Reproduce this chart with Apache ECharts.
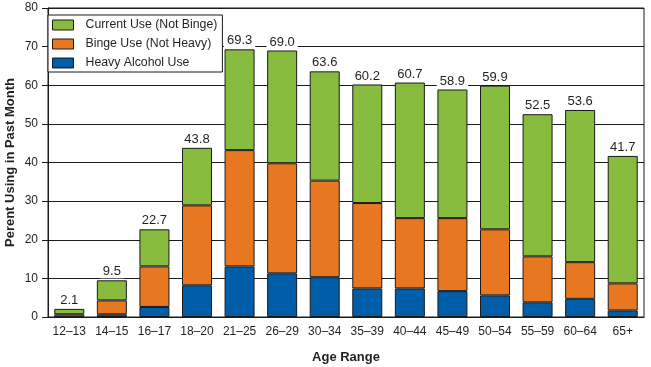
<!DOCTYPE html>
<html>
<head>
<meta charset="utf-8">
<script src="https://cdn.jsdelivr.net/npm/echarts@6/dist/echarts.min.js"></script>
<style>html,body{margin:0;padding:0;background:#fff}#c{width:651px;height:367px}</style>
</head>
<body>
<div id="c"></div>
<script>
var categories = ['12–13','14–15','16–17','18–20','21–25','26–29','30–34','35–39','40–44','45–49','50–54','55–59','60–64','65+'];
var heavy   = [0.1, 0.7, 2.6, 8.2, 13.1, 11.3, 10.3, 7.4, 7.4, 6.7, 5.6, 3.8, 4.7, 1.7];
var binge   = [0.6, 3.6, 10.5, 20.7, 30.1, 28.5, 25.0, 22.1, 18.2, 18.9, 17.1, 11.9, 9.5, 7.0];
var current = [1.4, 5.2, 9.6, 14.9, 26.1, 29.2, 28.3, 30.7, 35.1, 33.3, 37.2, 36.8, 39.4, 33.0];
var totals  = [2.1, 9.5, 22.7, 43.8, 69.3, 69.0, 63.6, 60.2, 60.7, 58.9, 59.9, 52.5, 53.6, 41.7];
var yTicks = [0,10,20,30,40,50,60,70,80];

var FONT = '"Liberation Sans", Arial, Helvetica, sans-serif';
// use a narrow face for tick labels if it is installed
var TICKFONT = FONT, TICKSIZE = 12;
(function(){
  var c = document.createElement('canvas').getContext('2d');
  c.font = '40px monospace'; var a = c.measureText('abcdefghij12–13').width;
  c.font = '40px "Liberation Sans Narrow", monospace'; var b = c.measureText('abcdefghij12–13').width;
  if (Math.abs(a - b) > 1) { TICKFONT = '"Liberation Sans Narrow", ' + FONT; TICKSIZE = 14; }
})();

var chart = echarts.init(document.getElementById('c'), null, {renderer:'canvas'});
var barBase = {type:'bar', stack:'total', barWidth:30};
chart.setOption({
  animation:false,
  textStyle:{fontFamily:FONT},
  grid:{left:48, right:7, top:8, bottom:50, outerBoundsMode:'none', containLabel:false,
        show:true, borderColor:'#1a1a1a', borderWidth:1, backgroundColor:'transparent'},
  legend:{
    data:['Current Use (Not Binge)','Binge Use (Not Heavy)','Heavy Alcohol Use'],
    orient:'vertical', left:48, top:15,
    backgroundColor:'#fff', borderColor:'#1a1a1a', borderWidth:1,
    padding:[3,5,2,4], itemGap:5, itemWidth:21, itemHeight:10,
    icon:'rect',
    itemStyle:{borderColor:'#1a1a1a', borderWidth:1},
    textStyle:{fontFamily:FONT, fontSize:12.3, color:'#231f20', lineHeight:14, padding:[0,0,0,7]}
  },
  xAxis:{
    type:'category', data:categories,
    name:'Age Range', nameLocation:'middle', nameGap:34, nameMoveOverlap:false,
    nameTextStyle:{fontFamily:FONT, fontSize:13, fontWeight:'bold', color:'#231f20'},
    axisLine:{lineStyle:{color:'#1a1a1a', width:1}},
    axisTick:{length:6, lineStyle:{color:'#1a1a1a'}},
    axisLabel:{fontFamily:TICKFONT, fontSize:TICKSIZE, color:'#231f20', margin:9, interval:0}
  },
  yAxis:{
    type:'value', min:yTicks[0], max:yTicks[yTicks.length-1], interval:10,
    name:'Perent Using in Past Month', nameLocation:'middle', nameGap:31, nameMoveOverlap:false,
    nameTextStyle:{fontFamily:FONT, fontSize:13, fontWeight:'bold', color:'#231f20'},
    axisLine:{show:true, lineStyle:{color:'#1a1a1a', width:1}},
    axisTick:{show:true, length:6, lineStyle:{color:'#1a1a1a'}},
    axisLabel:{fontFamily:TICKFONT, fontSize:TICKSIZE, color:'#231f20', margin:10},
    splitLine:{lineStyle:{color:'#1a1a1a', width:1}}
  },
  series:[
    Object.assign({}, barBase, {name:'Heavy Alcohol Use', data:heavy, itemStyle:{color:'#005ea8', borderColor:'#1a1a1a', borderWidth:1}}),
    Object.assign({}, barBase, {name:'Binge Use (Not Heavy)', data:binge, itemStyle:{color:'#e87722', borderColor:'#1a1a1a', borderWidth:1}}),
    Object.assign({}, barBase, {name:'Current Use (Not Binge)', data:current, itemStyle:{color:'#88bc3f', borderColor:'#1a1a1a', borderWidth:1},
      label:{show:true, position:'top', distance:2, fontFamily:FONT, fontSize:13, color:'#231f20',
        backgroundColor:'#fff', padding:[1,3,0,3],
        formatter:function(p){return totals[p.dataIndex].toFixed(1);}}})
  ]
});
</script>
</body>
</html>
